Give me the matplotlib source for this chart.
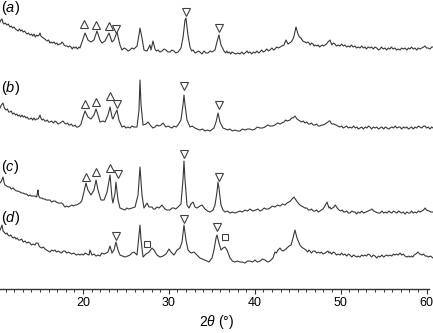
import matplotlib
matplotlib.use("Agg")
import matplotlib.pyplot as plt
from matplotlib.ticker import MultipleLocator

plt.rcParams["font.family"] = ["Liberation Sans", "DejaVu Sans"]
plt.rcParams["mathtext.fontset"] = "custom"
plt.rcParams["mathtext.rm"] = "Liberation Sans"
plt.rcParams["mathtext.it"] = "Liberation Sans:italic"

# XRD patterns, (2theta in degrees, intensity in a.u.)
trace_a = [(10.34, 33), (10.45, 35), (10.57, 36), (10.7, 32), (10.81, 31), (10.95, 32), (11.15, 30),
           (11.3, 31), (11.5, 28), (11.65, 29), (11.8, 27), (11.97, 28), (12.15, 26), (12.3, 25),
           (12.44, 24), (12.6, 26), (12.75, 24), (12.9, 25), (13.05, 23), (13.2, 24), (13.37, 22),
           (13.5, 21), (13.65, 22), (13.83, 20), (14.0, 21), (14.15, 19), (14.3, 21), (14.45, 18),
           (14.6, 20), (14.76, 19), (14.9, 20), (15.0, 22), (15.1, 19), (15.23, 18), (15.4, 17),
           (15.55, 16), (15.69, 15), (15.85, 14), (16.0, 15), (16.16, 12), (16.3, 13), (16.45, 12),
           (16.63, 13), (16.8, 11), (16.95, 12), (17.09, 10), (17.25, 11), (17.4, 11), (17.55, 13),
           (17.67, 12), (17.8, 10), (17.95, 9), (18.14, 9), (18.3, 8), (18.45, 9), (18.61, 8),
           (18.75, 6), (18.9, 8), (19.07, 7), (19.2, 8), (19.35, 6), (19.54, 8), (19.65, 7),
           (19.77, 10), (20.24, 22), (20.58, 15), (20.93, 13), (21.28, 15),
           (21.63, 24), (21.98, 15), (22.21, 12), (22.56, 14), (22.80, 18), (23.03, 22), (23.38, 13),
           (23.61, 15), (23.96, 23), (24.31, 10), (24.54, 5), (24.8, 7), (25.01, 6), (25.25, 4),
           (25.47, 5), (25.7, 7), (25.94, 6), (26.29, 9), (26.52, 20), (26.64, 27), (26.87, 17),
           (27.10, 5), (27.45, 4), (27.80, 10), (27.92, 5), (28.15, 14), (28.38, 6), (28.55, 4),
           (28.73, 5), (28.95, 3), (29.20, 4), (29.45, 6), (29.66, 5), (29.9, 3), (30.13, 3),
           (30.35, 5), (30.59, 4), (30.8, 2), (31.06, 3), (31.25, 5), (31.41, 7), (31.64, 17),
           (31.88, 35), (31.99, 37), (32.22, 20), (32.46, 8), (32.65, 4), (32.81, 5), (33.05, 2),
           (33.27, 3), (33.45, 4), (33.62, 3), (33.85, 1), (34.09, 4), (34.3, 2), (34.55, 2),
           (34.8, 4), (35.02, 3), (35.37, 5), (35.60, 13), (35.83, 20), (36.07, 10), (36.42, 4),
           (36.6, 2), (36.75, 4), (36.88, 2), (37.05, 3), (37.2, 1), (37.35, 3), (37.55, 2),
           (37.81, 1), (38.0, 2), (38.28, 1), (38.5, 3), (38.7, 1), (38.86, 2), (39.1, 4),
           (39.25, 2), (39.44, 3), (39.65, 1), (39.85, 3), (40.03, 2), (40.25, 4), (40.45, 2),
           (40.61, 3), (40.8, 5), (41.0, 3), (41.19, 4), (41.4, 6), (41.6, 4), (41.77, 5),
           (42.0, 7), (42.2, 5), (42.35, 6), (42.55, 8), (42.75, 7), (42.94, 8), (43.15, 9),
           (43.40, 10), (43.63, 15), (43.87, 11), (44.05, 12), (44.22, 13), (44.4, 15),
           (44.57, 19), (44.80, 28), (45.03, 21), (45.2, 18), (45.38, 17), (45.6, 14),
           (45.85, 13), (46.0, 12), (46.15, 13), (46.31, 12), (46.45, 10), (46.6, 12), (46.78, 11),
           (46.9, 9), (47.05, 10), (47.24, 9), (47.4, 10), (47.55, 8), (47.71, 9), (47.85, 10),
           (48.0, 9), (48.18, 10), (48.35, 11), (48.52, 13), (48.65, 14), (48.76, 15), (48.88, 12),
           (48.99, 10), (49.15, 12), (49.34, 11), (49.5, 9), (49.7, 10), (49.92, 9), (50.1, 11),
           (50.3, 9), (50.5, 10), (50.7, 8), (50.9, 9), (51.08, 8), (51.25, 10), (51.45, 8),
           (51.67, 9), (51.85, 7), (52.05, 8), (52.25, 7), (52.45, 9), (52.65, 7), (52.83, 8),
           (53.0, 6), (53.2, 8), (53.41, 7), (53.6, 8), (53.8, 6), (53.99, 8), (54.2, 7), (54.4, 5),
           (54.58, 6), (54.75, 8), (54.95, 6), (55.16, 7), (55.35, 5), (55.55, 7), (55.74, 6),
           (55.9, 8), (56.1, 6), (56.32, 7), (56.5, 5), (56.7, 6), (56.91, 5), (57.1, 7), (57.3, 6),
           (57.49, 7), (57.7, 5), (57.9, 7), (58.07, 6), (58.25, 8), (58.45, 6), (58.65, 7),
           (58.85, 5), (59.05, 7), (59.23, 6), (59.45, 7), (59.65, 8), (59.82, 9), (60.0, 7),
           (60.17, 7), (60.4, 6), (60.6, 8), (60.75, 8)]

trace_b = [(10.34, 24), (10.5, 27), (10.69, 29), (10.85, 24), (11.04, 22), (11.2, 23), (11.35, 20),
           (11.5, 20), (11.65, 21), (11.8, 18), (11.97, 19), (12.15, 17), (12.3, 18), (12.44, 16),
           (12.6, 17), (12.75, 15), (12.9, 17), (13.05, 15), (13.2, 16), (13.37, 14), (13.5, 15),
           (13.65, 13), (13.83, 13), (14.0, 14), (14.15, 12), (14.3, 14), (14.45, 12), (14.6, 13),
           (14.76, 13), (14.9, 15), (15.0, 17), (15.1, 14), (15.23, 12), (15.4, 13), (15.55, 11),
           (15.69, 11), (15.85, 12), (16.0, 10), (16.16, 10), (16.35, 11), (16.55, 9), (16.74, 11),
           (16.9, 10), (17.1, 8), (17.32, 9), (17.5, 10), (17.67, 11), (17.85, 9), (18.02, 8),
           (18.2, 9), (18.35, 7), (18.49, 7), (18.65, 8), (18.8, 6), (18.95, 6), (19.1, 7),
           (19.25, 5), (19.42, 5), (19.6, 6), (19.77, 8), (20.00, 15), (20.24, 21), (20.58, 15),
           (20.93, 13), (21.28, 17), (21.52, 23), (21.75, 17), (21.98, 10), (22.33, 11), (22.56, 10),
           (22.91, 17), (23.15, 25), (23.38, 15), (23.49, 13), (23.73, 18), (23.96, 22), (24.19, 12),
           (24.54, 5), (24.8, 6), (25.01, 4), (25.25, 5), (25.47, 4), (25.7, 6), (25.94, 5),
           (26.29, 5), (26.52, 22), (26.64, 52), (26.76, 27), (26.99, 7), (27.34, 8), (27.57, 10),
           (27.92, 6), (28.15, 4), (28.38, 5), (28.6, 7), (28.85, 6), (29.1, 7), (29.32, 9),
           (29.66, 5), (29.9, 6), (30.13, 5), (30.35, 4), (30.60, 6), (30.85, 5), (31.06, 7),
           (31.41, 12), (31.64, 27), (31.76, 37), (31.88, 27), (32.11, 12), (32.46, 5), (32.7, 6),
           (33.04, 4), (33.3, 3), (33.62, 2), (33.9, 3), (34.21, 1), (34.5, 2), (34.79, 1),
           (35.25, 4), (35.49, 10), (35.72, 19), (35.95, 10), (36.30, 4), (36.6, 3), (36.88, 2),
           (37.1, 3), (37.4, 1), (37.70, 2), (38.0, 1), (38.28, 1), (38.55, 3), (38.86, 2),
           (39.15, 3), (39.44, 3), (39.7, 2), (40.03, 3), (40.3, 5), (40.61, 4), (40.9, 4),
           (41.19, 5), (41.5, 7), (41.77, 6), (42.05, 6), (42.35, 7), (42.65, 9), (42.94, 8),
           (43.15, 9), (43.40, 10), (43.6, 12), (43.75, 11), (44.10, 12), (44.3, 14), (44.45, 14),
           (44.68, 16), (44.92, 13), (45.26, 11), (45.45, 10), (45.65, 11), (45.85, 9), (46.05, 10),
           (46.25, 8), (46.43, 8), (46.6, 9), (46.8, 7), (47.01, 7), (47.2, 8), (47.4, 6), (47.59, 6),
           (47.75, 7), (47.95, 7), (48.18, 8), (48.35, 9), (48.52, 10), (48.65, 11), (48.76, 11),
           (48.88, 9), (48.99, 8), (49.2, 8), (49.46, 7), (49.65, 6), (49.92, 5), (50.1, 6), (50.3, 4),
           (50.5, 5), (50.7, 6), (50.9, 4), (51.08, 5), (51.3, 4), (51.5, 6), (51.7, 4), (51.9, 5),
           (52.05, 3), (52.25, 4), (52.45, 5), (52.65, 3), (52.85, 5), (53.05, 4), (53.25, 6),
           (53.41, 5), (53.6, 3), (53.8, 5), (54.0, 4), (54.2, 5), (54.4, 3), (54.58, 4), (54.8, 5),
           (55.0, 3), (55.2, 5), (55.4, 4), (55.6, 3), (55.74, 4), (55.95, 5), (56.15, 4), (56.35, 6),
           (56.55, 4), (56.75, 5), (56.91, 5), (57.1, 3), (57.3, 5), (57.5, 4), (57.7, 5), (57.9, 3),
           (58.07, 4), (58.25, 5), (58.45, 3), (58.65, 5), (58.85, 4), (59.05, 6), (59.23, 5),
           (59.45, 4), (59.65, 6), (59.82, 6), (60.0, 4), (60.2, 5), (60.4, 3), (60.6, 5), (60.75, 4)]

trace_c = [(10.34, 31), (10.5, 33), (10.6, 35), (10.69, 37), (10.8, 32), (10.92, 29), (11.1, 28),
           (11.3, 27), (11.5, 27), (11.65, 25), (11.85, 26), (12.09, 24), (12.25, 23), (12.45, 23),
           (12.67, 22), (12.85, 21), (13.05, 21), (13.25, 20), (13.45, 20), (13.65, 18), (13.83, 19),
           (14.0, 18), (14.2, 18), (14.41, 18), (14.6, 17), (14.7, 21), (14.76, 24), (14.85, 18),
           (15.0, 16), (15.2, 16), (15.4, 15), (15.58, 15), (15.75, 14), (15.95, 14), (16.16, 14),
           (16.35, 12), (16.55, 13), (16.74, 13), (16.9, 12), (17.1, 11), (17.32, 11), (17.5, 11),
           (17.67, 10), (17.8, 8), (17.91, 7), (18.1, 8), (18.3, 7), (18.49, 8), (18.7, 9), (18.9, 8),
           (19.07, 9), (19.25, 9), (19.45, 10), (19.65, 11), (19.85, 13), (20.0, 18),
           (20.35, 31), (20.58, 24), (20.93, 19), (21.28, 24), (21.52, 34), (21.75, 24), (22.10, 14),
           (22.45, 14), (22.80, 22), (23.15, 39), (23.38, 16), (23.49, 11), (23.73, 21), (23.84, 32),
           (24.08, 14), (24.31, 6), (24.6, 5), (24.89, 4), (25.1, 6), (25.36, 5), (25.71, 6),
           (26.06, 7), (26.41, 19), (26.64, 47), (26.87, 19), (27.10, 6), (27.45, 11), (27.69, 7),
           (28.04, 7), (28.2, 5), (28.38, 5), (28.6, 7), (28.85, 6), (29.20, 9), (29.55, 5),
           (29.8, 4), (30.13, 4), (30.35, 6), (30.60, 6), (30.8, 5), (31.06, 7), (31.41, 10),
           (31.64, 34), (31.76, 53), (31.88, 34), (32.11, 9), (32.34, 6), (32.57, 10), (32.81, 12),
           (33.04, 7), (33.27, 6), (33.62, 8), (33.86, 9), (34.21, 5), (34.5, 3), (34.79, 2),
           (35.14, 4), (35.37, 9), (35.60, 22), (35.72, 32), (35.83, 26), (36.07, 9), (36.3, 4),
           (36.53, 2), (36.8, 3), (37.12, 1), (37.4, 2), (37.70, 1), (38.0, 2), (38.28, 3),
           (38.55, 2), (38.86, 4), (39.15, 3), (39.44, 5), (39.79, 3), (40.1, 4), (40.37, 5),
           (40.6, 3), (40.84, 4), (41.1, 6), (41.31, 5), (41.55, 5), (41.77, 6), (42.05, 8),
           (42.35, 7), (42.65, 9), (42.94, 8), (43.25, 10), (43.52, 9), (43.75, 11), (43.98, 12),
           (44.15, 13), (44.33, 15), (44.57, 17), (44.80, 14), (45.05, 11), (45.26, 9), (45.45, 8),
           (45.65, 7), (45.85, 6), (46.05, 6), (46.25, 4), (46.43, 4), (46.6, 5), (46.8, 3),
           (47.01, 3), (47.2, 4), (47.4, 2), (47.59, 3), (47.75, 4), (47.94, 5), (48.1, 7), (48.29, 10),
           (48.41, 12), (48.52, 9), (48.64, 6), (48.75, 7), (48.87, 5), (49.05, 6), (49.22, 7),
           (49.35, 9), (49.46, 8), (49.6, 6), (49.81, 4), (50.0, 3), (50.2, 4), (50.35, 2), (50.5, 2),
           (50.7, 3), (50.9, 1), (51.08, 1), (51.3, 3), (51.5, 2), (51.67, 2), (51.85, 0), (52.05, 2),
           (52.25, 1), (52.45, 3), (52.65, 1), (52.95, 2), (53.2, 3), (53.45, 4), (53.65, 5),
           (53.85, 3), (54.11, 2), (54.35, 1), (54.58, 1), (54.8, 3), (55.0, 1), (55.2, 2), (55.4, 1),
           (55.6, 3), (55.74, 2), (55.95, 1), (56.15, 3), (56.35, 2), (56.55, 1), (56.75, 3),
           (56.91, 2), (57.1, 1), (57.3, 2), (57.5, 0), (57.7, 2), (57.9, 1), (58.07, 1), (58.25, 3),
           (58.45, 1), (58.65, 2), (58.85, 1), (59.05, 3), (59.23, 2), (59.45, 3), (59.65, 4),
           (59.82, 6), (60.0, 4), (60.28, 3), (60.5, 2), (60.75, 2)]

trace_d = [(10.34, 34), (10.45, 36), (10.57, 39), (10.7, 33), (10.81, 32), (11.0, 30), (11.15, 31),
           (11.27, 29), (11.45, 28), (11.6, 29), (11.74, 27), (11.9, 26), (12.05, 27), (12.2, 25),
           (12.35, 26), (12.5, 24), (12.67, 24), (12.85, 25), (13.05, 22), (13.25, 23), (13.45, 21),
           (13.65, 22), (13.83, 21), (14.0, 19), (14.2, 20), (14.41, 19), (14.55, 21), (14.76, 21),
           (14.9, 18), (15.0, 17), (15.2, 16), (15.4, 17), (15.58, 15), (15.75, 14), (15.95, 13),
           (16.16, 12), (16.35, 14), (16.55, 13), (16.74, 14), (16.9, 12), (17.1, 13), (17.32, 12),
           (17.5, 11), (17.7, 13), (17.91, 13), (18.1, 11), (18.3, 12), (18.49, 11), (18.7, 10),
           (18.9, 11), (19.07, 10), (19.25, 9), (19.45, 10), (19.65, 9), (19.85, 10), (20.05, 9),
           (20.24, 11), (20.45, 10), (20.70, 9), (20.82, 14), (21.05, 9), (21.3, 10), (21.52, 8),
           (21.75, 9), (21.98, 8), (22.2, 11), (22.45, 10), (22.7, 11), (22.91, 12),
           (23.15, 18), (23.38, 11), (23.61, 14), (23.84, 22), (24.08, 14), (24.31, 9), (24.6, 8),
           (24.89, 7), (25.2, 8), (25.47, 9), (25.7, 11), (25.94, 12), (26.29, 9), (26.52, 29),
           (26.64, 39), (26.76, 24), (26.99, 7), (27.34, 10), (27.69, 12), (28.04, 16), (28.27, 14),
           (28.62, 9), (28.97, 7), (29.32, 8), (29.66, 10), (30.01, 15), (30.25, 12), (30.60, 9),
           (30.95, 14), (31.29, 16), (31.53, 22), (31.76, 39), (31.99, 24), (32.23, 14), (32.57, 11),
           (32.92, 12), (33.27, 9), (33.62, 6), (33.9, 5), (34.21, 4), (34.45, 3), (34.67, 2),
           (35.02, 6), (35.25, 14), (35.49, 26), (35.60, 29), (35.83, 21), (36.07, 14), (36.30, 16),
           (36.53, 17), (36.77, 14), (37.12, 6), (37.4, 3), (37.70, 2), (38.0, 3), (38.28, 2),
           (38.55, 2), (38.86, 1), (39.15, 3), (39.44, 3), (39.75, 2), (40.03, 4), (40.3, 2),
           (40.61, 3), (40.9, 5), (41.19, 4), (41.5, 2), (41.77, 3), (42.12, 6), (42.35, 12),
           (42.5, 11), (42.70, 14), (42.94, 16), (43.1, 14), (43.29, 13), (43.63, 15), (43.98, 18),
           (44.22, 19), (44.45, 26), (44.68, 34), (44.92, 26), (45.26, 19), (45.45, 17), (45.61, 16),
           (45.8, 15), (45.96, 14), (46.15, 12), (46.3, 14), (46.43, 13), (46.6, 11), (46.8, 13),
           (47.01, 13), (47.2, 11), (47.4, 12), (47.59, 11), (47.75, 12), (47.95, 10), (48.18, 11),
           (48.35, 12), (48.52, 13), (48.65, 11), (48.76, 12), (48.95, 10), (49.15, 12), (49.34, 11),
           (49.5, 9), (49.7, 10), (49.92, 9), (50.1, 11), (50.3, 9), (50.5, 10), (50.7, 8), (50.9, 10),
           (51.08, 9), (51.3, 7), (51.5, 9), (51.67, 8), (51.85, 7), (52.05, 8), (52.25, 7),
           (52.45, 9), (52.65, 8), (52.83, 9), (53.0, 8), (53.2, 10), (53.41, 9), (53.6, 7), (53.8, 9),
           (53.99, 8), (54.2, 6), (54.4, 8), (54.58, 7), (54.8, 9), (55.0, 7), (55.16, 8), (55.35, 9),
           (55.55, 8), (55.74, 9), (55.95, 8), (56.15, 10), (56.32, 9), (56.5, 10), (56.7, 9),
           (56.91, 11), (57.1, 9), (57.3, 10), (57.49, 8), (57.7, 7), (57.9, 8), (58.07, 7),
           (58.25, 8), (58.4, 7), (58.54, 9), (58.75, 10), (59.0, 12), (59.2, 10), (59.47, 9),
           (59.65, 10), (59.85, 8), (60.05, 8), (60.25, 7), (60.45, 8), (60.75, 6)]

# vertical shift of each pattern in the stack
offsets = {"a": 234, "b": 157, "c": 75, "d": 25}
traces = {"a": trace_a, "b": trace_b, "c": trace_c, "d": trace_d}

# phase markers: (2theta, intensity)
up_tri = {"a": [(20.12, 31), (21.52, 30), (23.03, 29)],
          "b": [(20.24, 28), (21.52, 30), (23.15, 36)],
          "c": [(20.35, 37), (21.52, 42), (23.15, 46)],
          "d": []}
down_tri = {"a": [(23.84, 26), (31.99, 43), (35.83, 27)],
            "b": [(23.96, 28), (31.76, 46), (35.83, 27)],
            "c": [(24.08, 40), (31.76, 60), (35.83, 37)],
            "d": [(23.84, 28), (31.76, 45), (35.60, 37)]}
squares = {"d": [(27.45, 20), (36.53, 27)]}

label_y = {"a": 281, "b": 201, "c": 122, "d": 71}

fig = plt.figure(figsize=(4.33, 3.33), dpi=100)
ax = fig.add_axes([0, 0.132, 1, 0.868])

line_col = "#383838"
mk = dict(linestyle="none", markerfacecolor="white", markeredgecolor="#404040",
          markeredgewidth=0.8, zorder=3)

for key, tr in traces.items():
    x = [p[0] for p in tr]
    y = [p[1] + offsets[key] for p in tr]
    ax.plot(x, y, color=line_col, lw=0.8)
    for pts, m, ms in [(up_tri[key], "^", 5.6), (down_tri[key], "v", 5.6), (squares.get(key, []), "s", 5.0)]:
        if pts:
            ax.plot([p[0] for p in pts], [p[1] + offsets[key] for p in pts], marker=m, markersize=ms, **mk)
    ax.text(10.45, label_y[key], "($\\mathit{%s}$)" % key, fontsize=10.5, ha="left", va="center")

ax.set_xlim(10.34, 60.75)
ax.set_ylim(0, 289)
for s in ["left", "right", "top"]:
    ax.spines[s].set_visible(False)
ax.spines["bottom"].set_bounds(10.34, 60.3)
ax.spines["bottom"].set_linewidth(1.0)
ax.spines["bottom"].set_color("#333333")
ax.set_yticks([])
ax.set_xticks([20, 30, 40, 50, 60])
ax.xaxis.set_minor_locator(MultipleLocator(1))
ax.tick_params(axis="x", which="major", direction="out", length=3.8, width=0.8,
               labelsize=9, pad=2, color="#333333")
ax.tick_params(axis="x", which="minor", direction="out", length=2.2, width=0.7, color="#333333")
ax.set_xlabel("$\\mathit{2\\theta}$ (°)", fontsize=10, labelpad=3)
ax.patch.set_alpha(0)

fig.savefig("out.png", dpi=100)
